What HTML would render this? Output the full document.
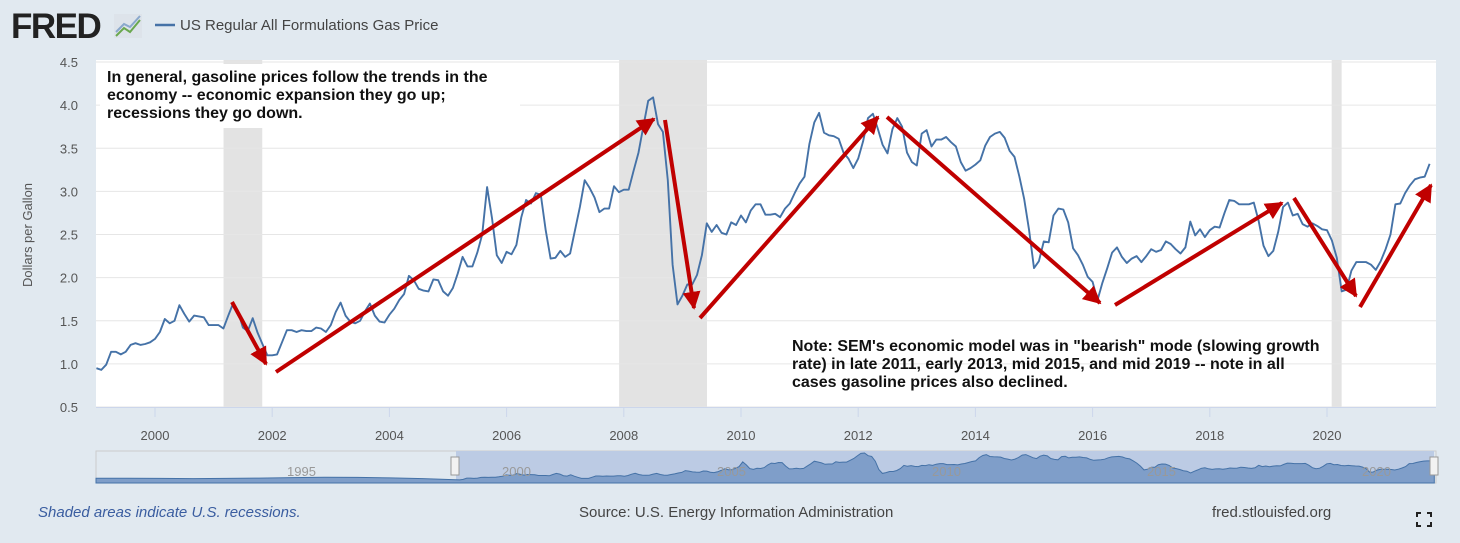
<!DOCTYPE html>
<html><head><meta charset="utf-8">
<style>
body{margin:0;width:1460px;height:543px;background:#e1e9f0;overflow:hidden;font-family:"Liberation Sans",sans-serif;}
svg{position:absolute;left:0;top:0}
</style></head>
<body>
<svg width="1460" height="543" xmlns="http://www.w3.org/2000/svg" id="chart">
<defs>
<marker id="ah" viewBox="0 0 10 10" refX="9" refY="5" markerWidth="4.5" markerHeight="4.5" orient="auto"><path d="M0,0 L10,5 L0,10 z" fill="#c00000"/></marker>
</defs>
<g>
<text x="11" y="38" font-size="35" font-weight="bold" fill="#222" letter-spacing="-1.5">FRED</text>
<rect x="114" y="14" width="28" height="24" fill="#dde3ea"/>
<polyline points="116,36 124,28 130,32 140,20" fill="none" stroke="#6aa84f" stroke-width="2"/>
<polyline points="116,32 124,24 130,27 140,16" fill="none" stroke="#8aa8cc" stroke-width="2"/>
</g>
<g>
<line x1="155" y1="25" x2="175" y2="25" stroke="#4572a7" stroke-width="2.5"/>
<text x="180" y="30" font-size="15" fill="#444">US Regular All Formulations Gas Price</text>
</g>
<rect x="96" y="60" width="1340" height="347" fill="#fff"/>
<g id="rec"></g>
<g id="grid"></g>
<g id="yt"></g>
<g id="xt"></g>
<text transform="translate(32,235) rotate(-90)" text-anchor="middle" font-size="13" fill="#555">Dollars per Gallon</text>
<path id="line" fill="none" stroke="#4572a7" stroke-width="1.9" stroke-linejoin="round"/>
<g>
<rect x="100" y="64" width="420" height="64" fill="#fff"/>
<text font-size="16" font-weight="bold" fill="#111"><tspan x="107" y="82">In general, gasoline prices follow the trends in the</tspan><tspan x="107" y="100">economy -- economic expansion they go up;</tspan><tspan x="107" y="118">recessions they go down.</tspan></text>
</g>
<g>
<text font-size="16" font-weight="bold" fill="#111"><tspan x="792" y="351">Note: SEM's economic model was in "bearish" mode (slowing growth</tspan><tspan x="792" y="369">rate) in late 2011, early 2013, mid 2015, and mid 2019 -- note in all</tspan><tspan x="792" y="387">cases gasoline prices also declined.</tspan></text>
</g>
<g stroke="#c00000" stroke-width="4" marker-end="url(#ah)">
<line x1="232" y1="302" x2="266" y2="364"/>
<line x1="276" y1="372" x2="654" y2="119"/>
<line x1="665" y1="120" x2="694" y2="308"/>
<line x1="700" y1="318" x2="878" y2="117"/>
<line x1="887" y1="117" x2="1100" y2="303"/>
<line x1="1115" y1="305" x2="1282" y2="203"/>
<line x1="1294" y1="198" x2="1356" y2="296"/>
<line x1="1360" y1="307" x2="1431" y2="185"/>
</g>
<g>
<rect x="96" y="451" width="1340" height="32" fill="#e1e9f0" stroke="#ccc"/>
<rect x="456" y="451" width="978" height="32" fill="#bccbe4"/>
<path id="navarea" fill="#7f9ec9" stroke="#4572a7" stroke-width="1"/>
<g id="navlab" font-size="13" fill="#999"></g>
<rect x="451" y="457" width="8" height="18" fill="#f2f2f2" stroke="#999"/>
<rect x="1430" y="457" width="8" height="18" fill="#f2f2f2" stroke="#999"/>
</g>
<text x="38" y="517" font-size="15" font-style="italic" fill="#3a5da0">Shaded areas indicate U.S. recessions.</text>
<text x="579" y="517" font-size="15" fill="#444">Source: U.S. Energy Information Administration</text>
<text x="1212" y="517" font-size="15" fill="#444">fred.stlouisfed.org</text>
<g stroke="#222" stroke-width="2" fill="none">
<path d="M1417,517 v-4 h4 M1427,513 h4 v4 M1431,522 v4 h-4 M1421,526 h-4 v-4"/>
</g>
</svg>
<script>
const startYear = 1999;
const prices = [
0.95,0.93,0.99,1.14,1.14,1.11,1.14,1.22,1.24,1.22,1.23,1.25,
1.29,1.37,1.52,1.47,1.50,1.68,1.58,1.49,1.56,1.55,1.54,1.45,
1.45,1.45,1.41,1.56,1.70,1.61,1.42,1.38,1.53,1.36,1.23,1.10,
1.10,1.11,1.25,1.39,1.39,1.37,1.39,1.38,1.38,1.42,1.41,1.37,
1.45,1.60,1.71,1.56,1.49,1.47,1.50,1.61,1.70,1.56,1.49,1.48,
1.57,1.64,1.74,1.81,2.02,1.97,1.87,1.85,1.84,1.98,1.97,1.84,
1.79,1.88,2.05,2.24,2.13,2.13,2.29,2.50,3.05,2.69,2.26,2.17,
2.30,2.27,2.38,2.70,2.90,2.86,2.98,2.96,2.55,2.22,2.23,2.31,
2.24,2.28,2.55,2.82,3.13,3.04,2.93,2.76,2.80,2.80,3.06,2.99,
3.02,3.02,3.24,3.45,3.75,4.05,4.09,3.78,3.69,3.13,2.15,1.69,
1.79,1.92,1.92,2.03,2.26,2.63,2.53,2.61,2.52,2.50,2.64,2.61,
2.72,2.64,2.78,2.85,2.85,2.73,2.73,2.74,2.70,2.80,2.86,2.98,
3.09,3.17,3.55,3.80,3.91,3.68,3.65,3.64,3.61,3.45,3.38,3.27,
3.38,3.58,3.85,3.90,3.73,3.54,3.44,3.72,3.85,3.75,3.45,3.34,
3.30,3.67,3.71,3.52,3.60,3.60,3.63,3.57,3.52,3.34,3.24,3.27,
3.31,3.36,3.53,3.63,3.67,3.69,3.62,3.47,3.40,3.17,2.91,2.55,
2.11,2.19,2.42,2.41,2.72,2.80,2.79,2.64,2.34,2.26,2.15,2.01,
1.95,1.74,1.94,2.11,2.29,2.35,2.24,2.17,2.22,2.25,2.18,2.25,
2.33,2.30,2.32,2.42,2.39,2.33,2.28,2.35,2.65,2.49,2.56,2.47,
2.55,2.59,2.58,2.75,2.90,2.89,2.85,2.85,2.85,2.87,2.66,2.37,
2.25,2.31,2.53,2.82,2.87,2.72,2.74,2.62,2.59,2.63,2.60,2.56,
2.55,2.43,2.23,1.84,1.86,2.08,2.18,2.18,2.18,2.15,2.09,2.19,
2.33,2.50,2.85,2.86,2.98,3.07,3.14,3.16,3.17,3.32];
const navEarly = [1.13,1.12,1.10,1.08,1.11,1.14,1.20,1.23,1.22,1.17,1.08];
const yTicks = [0.5,1.0,1.5,2.0,2.5,3.0,3.5,4.0,4.5];
const xTicks = [2000,2002,2004,2006,2008,2010,2012,2014,2016,2018,2020];
const navLabels = [1995,2000,2005,2010,2015,2020];
const recessions = [[2001.17,2001.83],[2007.92,2009.42],[2020.08,2020.25]];

const NS="http://www.w3.org/2000/svg";
const x = t => 96.4 + (t-1999)*58.6;
const y = v => 407 - (v-0.5)*86.25;
const nx = t => 456 + (t-1999)*43;
const ny = v => 481 - (v-0.8)*8.5;
function mk(tag, attrs, parent){const e=document.createElementNS(NS,tag);for(const k in attrs)e.setAttribute(k,attrs[k]);document.getElementById(parent).appendChild(e);return e;}

recessions.forEach(r=>{
  const e=mk('rect',{x:x(r[0]),y:60,width:x(r[1])-x(r[0]),height:347,fill:'#e3e3e3'},'rec');
  
  
});
yTicks.forEach(v=>{
  const g=mk('line',{x1:96,x2:1436,y1:y(v),y2:y(v),stroke:'#e6e6e6'},'grid');
  
  
  const t=mk('text',{x:78,y:y(v)+5,'text-anchor':'end','font-size':13,fill:'#555'},'yt');
  t.textContent=v.toFixed(1);
  
  
});
mk('line',{x1:96,x2:1436,y1:407.5,y2:407.5,stroke:'#ccd6eb'},'grid');
xTicks.forEach(yr=>{
  mk('line',{x1:x(yr),x2:x(yr),y1:407,y2:417,stroke:'#ccd6eb'},'xt');
  const t=mk('text',{x:x(yr),y:440,'text-anchor':'middle','font-size':13,fill:'#555'},'xt');
  t.textContent=yr;
  
  
});
let d='';
prices.forEach((v,i)=>{d+=(i?'L':'M')+x(startYear+i/12).toFixed(1)+','+y(v).toFixed(1);});
document.getElementById('line').setAttribute('d',d);

let nd='M96,483';
navEarly.forEach((v,i)=>{const t=1999-(navEarly.length-i)*(8.4/navEarly.length);nd+='L'+Math.max(96,nx(t)).toFixed(1)+','+ny(v).toFixed(1);});
prices.forEach((v,i)=>{nd+='L'+nx(startYear+i/12).toFixed(1)+','+ny(v).toFixed(1);});
nd+='L'+nx(startYear+(prices.length-1)/12).toFixed(1)+',483Z';
document.getElementById('navarea').setAttribute('d',nd);
navLabels.forEach(yr=>{
  const t=mk('text',{x:nx(yr)+3,y:476},'navlab');
  t.textContent=yr;
  
  
});
</script>
</body></html>
